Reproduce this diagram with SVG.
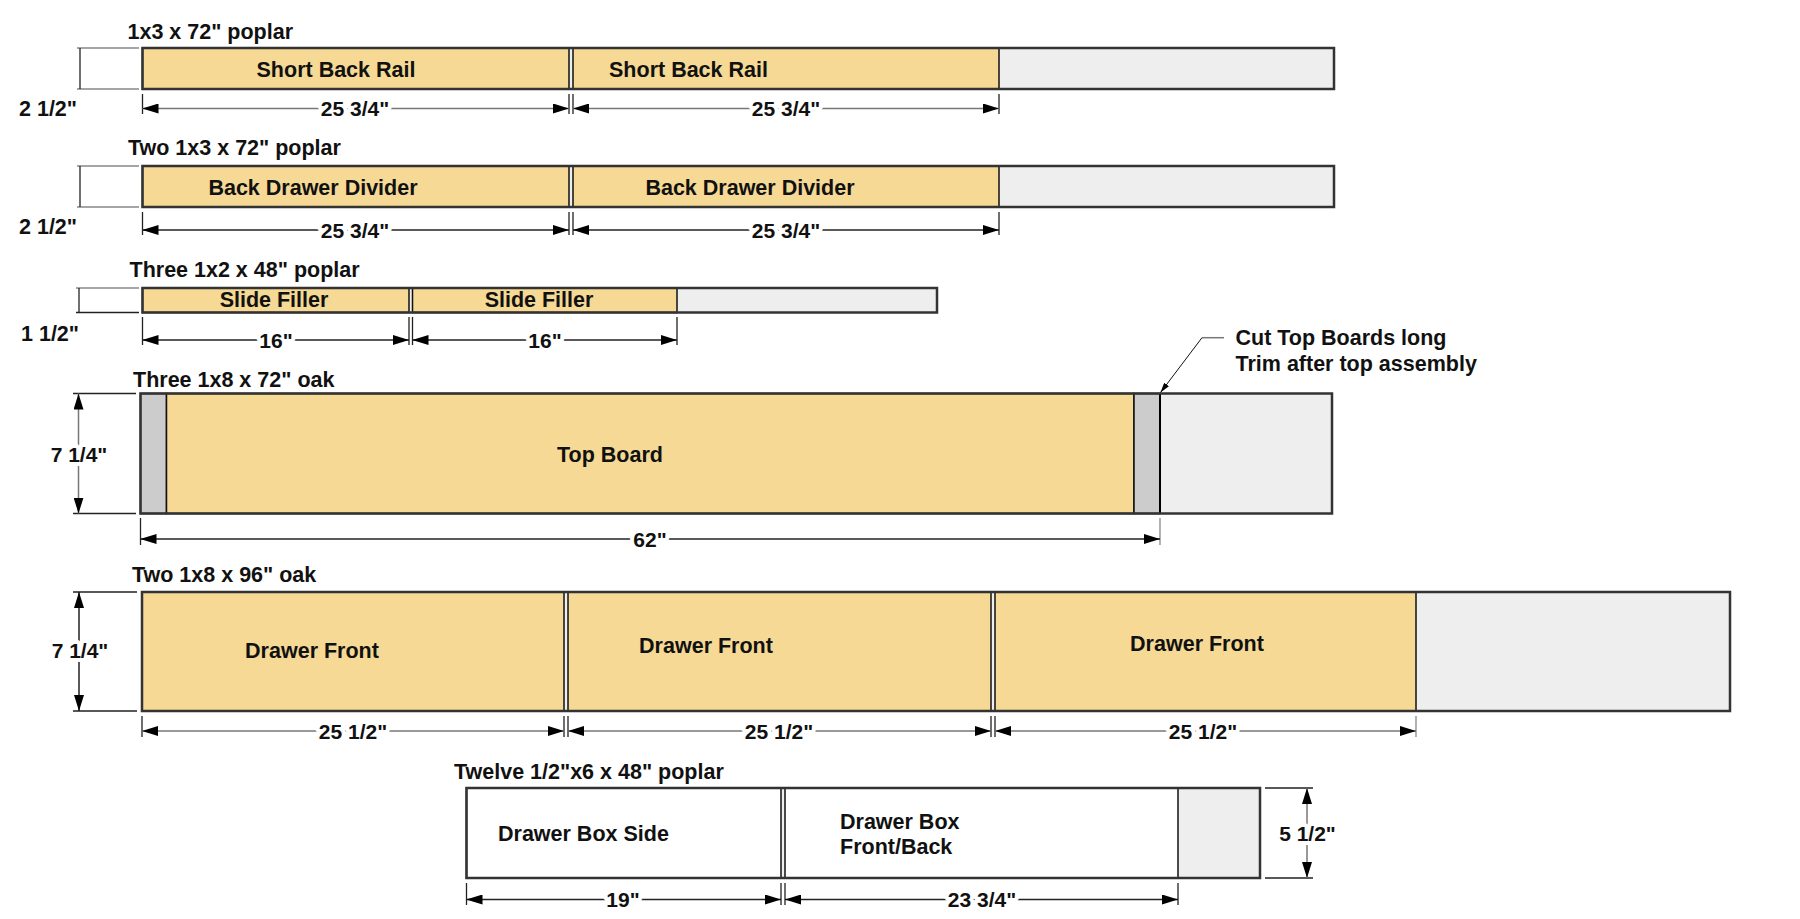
<svg xmlns="http://www.w3.org/2000/svg" width="1800" height="919" viewBox="0 0 1800 919">
<defs>
<style>
text{font-family:"Liberation Sans",Arial,sans-serif;font-weight:bold;font-size:21.5px;fill:#111}
.mid{text-anchor:middle}
.halo{paint-order:stroke;stroke:#fff;stroke-width:8px;stroke-linejoin:round;font-size:21px}
.outline{fill:none;stroke:#333;stroke-width:2.5}
.yel{fill:#F5D994;stroke:#111;stroke-width:1.5}
.wht{fill:#fff;stroke:#111;stroke-width:1.5}
.lg{fill:#EEEEEE;stroke:none}
.dg{fill:#CCCCCC;stroke:#111;stroke-width:1.5}
.dim{stroke:#222;stroke-width:1.5;fill:none}
.dimg{stroke:#777;stroke-width:1.5;fill:none}
.ext{stroke:#222;stroke-width:1.3;fill:none}
.extg{stroke:#888;stroke-width:1.3;fill:none}
</style>
<marker id="ah" viewBox="0 0 16 10" refX="16" refY="5" markerWidth="16" markerHeight="10" orient="auto-start-reverse" markerUnits="userSpaceOnUse"><path d="M0,0 L16,5 L0,10 z" fill="#000"/></marker>
<marker id="sah" viewBox="0 0 10 6" refX="10" refY="3" markerWidth="10" markerHeight="6" orient="auto" markerUnits="userSpaceOnUse"><path d="M0,0 L10,3 L0,6 z" fill="#000"/></marker>
</defs>
<rect width="1800" height="919" fill="#fff"/>

<g id="board1">
<text x="127.5" y="38.5">1x3 x 72" poplar</text>
<rect class="lg" x="142.5" y="48" width="1191.5" height="41"/>
<rect class="yel" x="142.5" y="48" width="426.5" height="41"/>
<rect class="yel" x="573" y="48" width="426" height="41"/>
<rect class="outline" x="142.5" y="48" width="1191.5" height="41"/>
<text class="mid" x="336" y="76.5">Short Back Rail</text>
<text class="mid" x="688.5" y="76.5">Short Back Rail</text>
<text x="19" y="115.5">2 1/2"</text>
</g>

<g id="board2">
<text x="128" y="155">Two 1x3 x 72" poplar</text>
<rect class="lg" x="142.5" y="166" width="1191.5" height="41"/>
<rect class="yel" x="142.5" y="166" width="426.5" height="41"/>
<rect class="yel" x="573" y="166" width="426" height="41"/>
<rect class="outline" x="142.5" y="166" width="1191.5" height="41"/>
<text class="mid" x="313" y="194.5">Back Drawer Divider</text>
<text class="mid" x="750" y="194.5">Back Drawer Divider</text>
<text x="19" y="233.5">2 1/2"</text>
</g>

<g id="board3">
<text x="129.5" y="277">Three 1x2 x 48" poplar</text>
<rect class="lg" x="142.5" y="288" width="794.5" height="24.5"/>
<rect class="yel" x="142.5" y="288" width="266.5" height="24.5"/>
<rect class="yel" x="412.5" y="288" width="264.5" height="24.5"/>
<rect class="outline" x="142.5" y="288" width="794.5" height="24.5"/>
<text class="mid" x="274" y="307">Slide Filler</text>
<text class="mid" x="539" y="307">Slide Filler</text>
<text x="21" y="340.5">1 1/2"</text>
</g>

<g id="board4">
<text x="133" y="386.5">Three 1x8 x 72" oak</text>
<rect class="lg" x="140.5" y="393.5" width="1191.5" height="120"/>
<rect class="dg" x="140.5" y="393.5" width="26" height="120"/>
<rect class="yel" x="166.5" y="393.5" width="967.5" height="120"/>
<rect class="dg" x="1134" y="393.5" width="26" height="120"/>
<line x1="1160" y1="393.5" x2="1160" y2="513.5" stroke="#000" stroke-width="2"/>
<rect class="outline" x="140.5" y="393.5" width="1191.5" height="120"/>
<text class="mid" x="610" y="461.5">Top Board</text>
</g>

<g id="callout">
<text x="1235.5" y="345">Cut Top Boards long</text>
<text x="1235.5" y="370.5">Trim after top assembly</text>
</g>

<g id="board5">
<text x="132" y="581.5">Two 1x8 x 96" oak</text>
<rect class="lg" x="142" y="592" width="1588" height="119"/>
<rect class="yel" x="142" y="592" width="422" height="119"/>
<rect class="yel" x="568" y="592" width="423" height="119"/>
<rect class="yel" x="995" y="592" width="421" height="119"/>
<rect class="outline" x="142" y="592" width="1588" height="119"/>
<text class="mid" x="312" y="658">Drawer Front</text>
<text class="mid" x="706" y="652.5">Drawer Front</text>
<text class="mid" x="1197" y="650.5">Drawer Front</text>
</g>

<g id="board6">
<text x="454" y="779">Twelve 1/2"x6 x 48" poplar</text>
<rect class="lg" x="466.5" y="788" width="793.5" height="90"/>
<rect class="wht" x="466.5" y="788" width="314.5" height="90"/>
<rect class="wht" x="785" y="788" width="393" height="90"/>
<rect class="outline" x="466.5" y="788" width="793.5" height="90"/>
<text x="498" y="841">Drawer Box Side</text>
<text x="840" y="828.5">Drawer Box</text>
<text x="840" y="853.5">Front/Back</text>
</g>

<g id="connectors">
<path class="extg" d="M77,48H139M77,89H139"/>
<path class="ext" d="M80,48V89"/>
<path class="ext" d="M142.5,94V114M569,94V114M573,94V114M999,94V114"/>
<line class="dimg" x1="142.5" y1="108.5" x2="569" y2="108.5" marker-start="url(#ah)" marker-end="url(#ah)"/>
<line class="dimg" x1="573" y1="108.5" x2="999" y2="108.5" marker-start="url(#ah)" marker-end="url(#ah)"/>
<text class="mid halo" x="355" y="116">25 3/4"</text>
<text class="mid halo" x="786" y="116">25 3/4"</text>

<path class="extg" d="M77,166H139M77,207H139"/>
<path class="ext" d="M80,166V207"/>
<path class="ext" d="M142.5,212V235M569,212V235M573,212V235M999,212V235"/>
<line class="dim" x1="142.5" y1="230" x2="569" y2="230" marker-start="url(#ah)" marker-end="url(#ah)"/>
<line class="dim" x1="573" y1="230" x2="999" y2="230" marker-start="url(#ah)" marker-end="url(#ah)"/>
<text class="mid halo" x="355" y="237.5">25 3/4"</text>
<text class="mid halo" x="786" y="237.5">25 3/4"</text>

<path class="extg" d="M76,288H139"/>
<path class="ext" d="M76,312.5H139"/>
<path class="ext" d="M79,288V312.5"/>
<path class="ext" d="M142.5,317V345M409,317V345M412.5,317V345M677,317V345"/>
<line class="dim" x1="142.5" y1="340" x2="409" y2="340" marker-start="url(#ah)" marker-end="url(#ah)"/>
<line class="dim" x1="412.5" y1="340" x2="677" y2="340" marker-start="url(#ah)" marker-end="url(#ah)"/>
<text class="mid halo" x="276" y="347.5">16"</text>
<text class="mid halo" x="545" y="347.5">16"</text>

<path class="ext" d="M73,393.5H136M73,513.5H136"/>
<line class="dimg" x1="78.5" y1="393.5" x2="78.5" y2="513.5" marker-start="url(#ah)" marker-end="url(#ah)"/>
<text class="mid halo" x="79" y="461.5">7 1/4"</text>
<path class="ext" d="M140.5,518V545"/>
<path class="extg" d="M1160,518V545"/>
<line class="dim" x1="140.5" y1="539" x2="1160" y2="539" marker-start="url(#ah)" marker-end="url(#ah)"/>
<text class="mid halo" x="650" y="546.5">62"</text>

<path d="M1224,337.7H1202" stroke="#777" stroke-width="1.5" fill="none"/>
<line x1="1202" y1="337.7" x2="1160.5" y2="392.5" stroke="#111" stroke-width="1" marker-end="url(#sah)"/>

<path class="ext" d="M73,592H137M73,711H137"/>
<line class="dim" x1="79" y1="592" x2="79" y2="711" marker-start="url(#ah)" marker-end="url(#ah)"/>
<text class="mid halo" x="80" y="658">7 1/4"</text>
<path class="ext" d="M142,716V737M564,716V737M568,716V737M991,716V737M995,716V737"/>
<path class="extg" d="M1416,716V737"/>
<line class="dimg" x1="142" y1="731" x2="564" y2="731" marker-start="url(#ah)" marker-end="url(#ah)"/>
<line class="dimg" x1="568" y1="731" x2="991" y2="731" marker-start="url(#ah)" marker-end="url(#ah)"/>
<line class="dimg" x1="995" y1="731" x2="1416" y2="731" marker-start="url(#ah)" marker-end="url(#ah)"/>
<text class="mid halo" x="353" y="738.5">25 1/2"</text>
<text class="mid halo" x="779" y="738.5">25 1/2"</text>
<text class="mid halo" x="1203" y="738.5">25 1/2"</text>

<path class="ext" d="M466.5,883V905M781,883V905M785,883V905M1178,883V905"/>
<line class="dim" x1="466.5" y1="899.5" x2="781" y2="899.5" marker-start="url(#ah)" marker-end="url(#ah)"/>
<line class="dim" x1="785" y1="899.5" x2="1178" y2="899.5" marker-start="url(#ah)" marker-end="url(#ah)"/>
<text class="mid halo" x="623" y="907">19"</text>
<text class="mid halo" x="982" y="907">23 3/4"</text>
<path class="ext" d="M1265,788H1313M1265,878H1313"/>
<line class="dimg" x1="1307" y1="788" x2="1307" y2="878" marker-start="url(#ah)" marker-end="url(#ah)"/>
<text class="mid halo" x="1307.5" y="840.5">5 1/2"</text>
</g>
</svg>
